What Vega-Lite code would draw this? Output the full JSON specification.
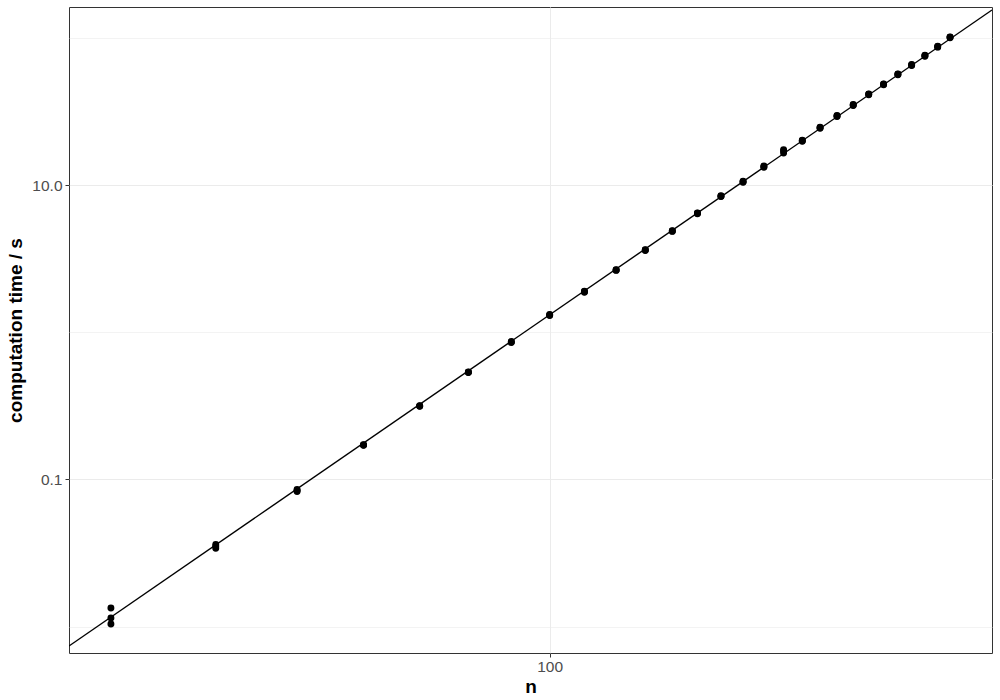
{
  "$schema": "https://vega.github.io/schema/vega-lite/v6.json",
  "autosize": {"type": "none"},
  "padding": {"left": 69, "top": 7, "right": 8, "bottom": 47},
  "width": 923,
  "height": 646,
  "background": "white",
  "config": {
    "font": "Liberation Sans",
    "view": {"stroke": "#333333", "strokeWidth": 1},
    "axis": {
      "domain": false,
      "gridColor": "#EBEBEB",
      "tickColor": "#333333",
      "tickSize": 4,
      "labelColor": "#4D4D4D",
      "labelFont": "Liberation Sans",
      "labelFontSize": 15.5,
      "titleFont": "Liberation Sans",
      "titleFontSize": 19,
      "titleFontWeight": "bold",
      "titleColor": "#000000"
    }
  },
  "datasets": {
    "obs": [
      {"n": 30, "t": 0.01338}, {"n": 30, "t": 0.01144}, {"n": 30, "t": 0.01041},
      {"n": 40, "t": 0.0361}, {"n": 40, "t": 0.0351}, {"n": 40, "t": 0.0341},
      {"n": 50, "t": 0.0855}, {"n": 50, "t": 0.0841}, {"n": 50, "t": 0.0828},
      {"n": 60, "t": 0.1720}, {"n": 60, "t": 0.1713}, {"n": 60, "t": 0.1705},
      {"n": 70, "t": 0.3165}, {"n": 70, "t": 0.3151}, {"n": 70, "t": 0.3140},
      {"n": 80, "t": 0.5360}, {"n": 80, "t": 0.5341}, {"n": 80, "t": 0.5320},
      {"n": 90, "t": 0.865}, {"n": 90, "t": 0.858}, {"n": 90, "t": 0.850},
      {"n": 100, "t": 1.32}, {"n": 100, "t": 1.31}, {"n": 100, "t": 1.30},
      {"n": 110, "t": 1.900}, {"n": 110, "t": 1.884}, {"n": 110, "t": 1.870},
      {"n": 120, "t": 2.660}, {"n": 120, "t": 2.647}, {"n": 120, "t": 2.630},
      {"n": 130, "t": 3.640}, {"n": 130, "t": 3.618}, {"n": 130, "t": 3.590},
      {"n": 140, "t": 4.900}, {"n": 140, "t": 4.869}, {"n": 140, "t": 4.840},
      {"n": 150, "t": 6.460}, {"n": 150, "t": 6.423}, {"n": 150, "t": 6.380},
      {"n": 160, "t": 8.45}, {"n": 160, "t": 8.40}, {"n": 160, "t": 8.35},
      {"n": 170, "t": 10.60}, {"n": 170, "t": 10.53}, {"n": 170, "t": 10.45},
      {"n": 180, "t": 13.45}, {"n": 180, "t": 13.32}, {"n": 180, "t": 13.20},
      {"n": 190, "t": 17.4}, {"n": 190, "t": 17.0}, {"n": 190, "t": 16.5},
      {"n": 200, "t": 20.15}, {"n": 200, "t": 20.0}, {"n": 200, "t": 19.85},
      {"n": 210, "t": 24.70}, {"n": 210, "t": 24.51}, {"n": 210, "t": 24.30},
      {"n": 220, "t": 29.65}, {"n": 220, "t": 29.43}, {"n": 220, "t": 29.20},
      {"n": 230, "t": 35.20}, {"n": 230, "t": 34.96}, {"n": 230, "t": 34.70},
      {"n": 240, "t": 41.60}, {"n": 240, "t": 41.33}, {"n": 240, "t": 41.00},
      {"n": 250, "t": 48.60}, {"n": 250, "t": 48.32}, {"n": 250, "t": 48.00},
      {"n": 260, "t": 56.85}, {"n": 260, "t": 56.49}, {"n": 260, "t": 56.10},
      {"n": 270, "t": 65.80}, {"n": 270, "t": 65.35}, {"n": 270, "t": 64.90},
      {"n": 280, "t": 76.10}, {"n": 280, "t": 75.57}, {"n": 280, "t": 75.00},
      {"n": 290, "t": 87.6}, {"n": 290, "t": 87.0}, {"n": 290, "t": 86.4},
      {"n": 300, "t": 101.5}, {"n": 300, "t": 100.8}, {"n": 300, "t": 100.1}
    ],
    "fit": [
      {"n": 26.74, "t": 0.007383},
      {"n": 336.6, "t": 154.5}
    ]
  },
  "layer": [
    {
      "data": {"name": "fit"},
      "mark": {"type": "line", "color": "#000000", "strokeWidth": 1.4, "clip": true},
      "encoding": {
        "x": {
          "field": "n", "type": "quantitative", "title": "n",
          "scale": {"type": "log", "domain": [26.74, 336.6], "nice": false, "zero": false},
          "axis": {
            "values": [100],
            "grid": true,
            "gridWidth": 1,
            "labelExpr": "datum.value == 100 ? '100' : ''",
            "labelPadding": 2,
            "titlePadding": 3
          }
        },
        "y": {
          "field": "t", "type": "quantitative", "title": "computation time / s",
          "scale": {"type": "log", "domain": [0.006617, 161.9], "nice": false, "zero": false},
          "axis": {
            "values": [0.01, 0.1, 1, 10, 100],
            "grid": true,
            "gridWidth": {"condition": {"test": "datum.value == 0.1 || datum.value == 10", "value": 1}, "value": 0.6},
            "tickOpacity": {"condition": {"test": "datum.value == 0.1 || datum.value == 10", "value": 1}, "value": 0},
            "labelExpr": "datum.value == 10 ? '10.0' : (datum.value == 0.1 ? '0.1' : '')",
            "labelPadding": 3,
            "titlePadding": 6
          }
        }
      }
    },
    {
      "data": {"name": "obs"},
      "mark": {"type": "point", "filled": true, "color": "#000000", "opacity": 1, "size": 48},
      "encoding": {
        "x": {"field": "n", "type": "quantitative"},
        "y": {"field": "t", "type": "quantitative"}
      }
    }
  ]
}
